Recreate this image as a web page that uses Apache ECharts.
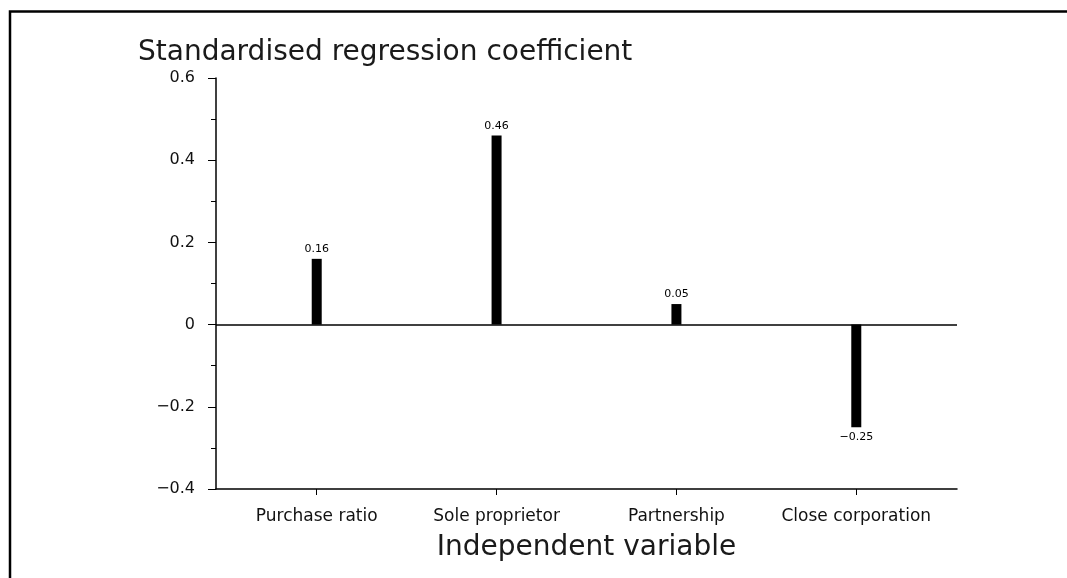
<!DOCTYPE html>
<html>
<head>
<meta charset="utf-8">
<script src="https://cdn.jsdelivr.net/npm/echarts@6/dist/echarts.min.js"></script>
<style>html,body{margin:0;padding:0;background:#fff;}#chart{width:1067px;height:578px;}</style>
</head>
<body>
<div id="chart"></div>
<script>
const categories = ['Purchase ratio', 'Sole proprietor', 'Partnership', 'Close corporation'];
const positions = [1, 2, 3, 4];
const coefficients = [0.16, 0.46, 0.05, -0.25];
const yTicks = [-0.4, -0.2, 0, 0.2, 0.4, 0.6];
const yTitle = 'Standardised regression coefficient';
const xTitle = 'Independent variable';

function fmtMinus(v, d) {
  if (Math.abs(v) < 1e-9) return '0';
  const s = Math.abs(v).toFixed(d);
  return (v < 0 ? '\u2212' : '') + s;
}

const chart = echarts.init(document.getElementById('chart'), null, {renderer: 'canvas'});
chart.setOption({
  animation: false,
  backgroundColor: '#fff',
  title: {
    text: yTitle,
    left: 133,
    top: 34,
    textStyle: {fontFamily: 'DejaVu Sans', fontWeight: 'normal', fontSize: 28, color: '#1a1a1a'}
  },
  graphic: [{
    type: 'polyline',
    shape: {points: [[10, 590], [10, 11.5], [1080, 11.5]]},
    style: {stroke: '#000', lineWidth: 2.5, fill: null}
  }],
  grid: {left: 216, top: 78, right: 110, bottom: 89},
  xAxis: {
    type: 'value',
    min: 0.44,
    max: 4.56,
    splitLine: {show: false},
    axisLine: {show: true, onZero: false, lineStyle: {color: '#000', width: 1.5}},
    axisTick: {show: true, length: 6, customValues: positions, lineStyle: {color: '#000'}},
    axisLabel: {
      customValues: positions,
      formatter: v => categories[Math.round(v) - 1] || '',
      fontFamily: 'DejaVu Sans', fontSize: 17, color: '#111', margin: 19
    },
    name: xTitle,
    nameLocation: 'middle',
    nameGap: 45,
    nameTextStyle: {fontFamily: 'DejaVu Sans', fontSize: 28, color: '#1a1a1a'}
  },
  yAxis: {
    type: 'value',
    min: yTicks[0],
    max: yTicks[yTicks.length - 1],
    interval: 0.2,
    splitLine: {show: false},
    axisLine: {show: true, lineStyle: {color: '#000', width: 1.5}},
    axisTick: {show: true, length: 8, lineStyle: {color: '#000'}},
    minorTick: {show: true, splitNumber: 2, length: 5, lineStyle: {color: '#000'}},
    axisLabel: {
      formatter: v => fmtMinus(v, 1),
      fontFamily: 'DejaVu Sans', fontSize: 16, color: '#111', margin: 21
    }
  },
  series: [{
    type: 'bar',
    barWidth: 10,
    itemStyle: {color: '#000'},
    data: positions.map((p, i) => ({
      value: [p, coefficients[i]],
      label: {position: coefficients[i] < 0 ? 'bottom' : 'top'}
    })),
    label: {
      show: true,
      formatter: p => fmtMinus(p.value[1], 2),
      fontFamily: 'DejaVu Sans', fontSize: 11, color: '#000', distance: 4
    },
    markLine: {
      silent: true,
      symbol: 'none',
      label: {show: false},
      lineStyle: {color: '#000', width: 1.5, type: 'solid'},
      data: [{yAxis: 0}]
    }
  }]
});
</script>
</body>
</html>
